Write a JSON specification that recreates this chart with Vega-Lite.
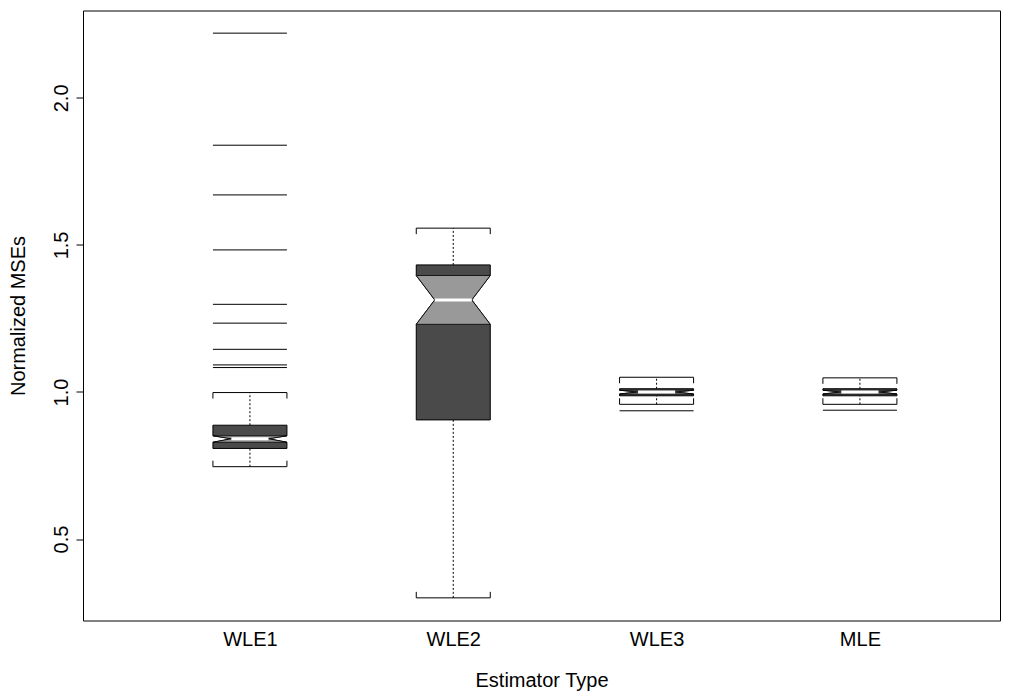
{
  "$schema": "https://vega.github.io/schema/vega-lite/v6.json",
  "width": 917,
  "height": 610,
  "autosize": {"type": "none"},
  "padding": {"left": 83, "top": 10.5, "right": 16, "bottom": 73.5},
  "background": "white",
  "config": {
    "view": {"stroke": "black", "strokeWidth": 1},
    "font": "Liberation Sans",
    "axis": {"labelFont": "Liberation Sans", "titleFont": "Liberation Sans", "labelColor": "black", "titleColor": "black", "tickColor": "black", "grid": false, "labelFontSize": 20, "titleFontSize": 20, "titleFontWeight": "normal"}
  },
  "datasets": {
    "stats": [
      {"group": "WLE1", "lo": 0.746, "q1": 0.808, "nlo": 0.829, "med": 0.841, "nhi": 0.851, "q3": 0.887, "hi": 0.998},
      {"group": "WLE2", "lo": 0.300, "q1": 0.905, "nlo": 1.230, "med": 1.313, "nhi": 1.396, "q3": 1.432, "hi": 1.557},
      {"group": "WLE3", "lo": 0.958, "q1": 0.987, "nlo": 0.993, "med": 1.000, "nhi": 1.006, "q3": 1.011, "hi": 1.050},
      {"group": "MLE", "lo": 0.958, "q1": 0.987, "nlo": 0.993, "med": 1.000, "nhi": 1.006, "q3": 1.011, "hi": 1.048}
    ],
    "outliers": [
      {"group": "WLE1", "value": 2.220},
      {"group": "WLE1", "value": 1.839},
      {"group": "WLE1", "value": 1.670},
      {"group": "WLE1", "value": 1.483},
      {"group": "WLE1", "value": 1.298},
      {"group": "WLE1", "value": 1.234},
      {"group": "WLE1", "value": 1.145},
      {"group": "WLE1", "value": 1.092},
      {"group": "WLE1", "value": 1.083},
      {"group": "WLE3", "value": 0.936},
      {"group": "MLE", "value": 0.938}
    ]
  },
  "layer": [
    {
      "data": {"name": "stats"},
      "transform": [
        {"calculate": "indexof(['WLE1','WLE2','WLE3','MLE'], datum.group) + 1", "as": "pos"},
        {"fold": ["q1", "nlo", "med", "nhi", "q3"], "as": ["k", "v"]},
        {"calculate": "datum.k == 'med' ? 0.091 : 0.182", "as": "w"},
        {"calculate": "datum.pos - datum.w", "as": "a"},
        {"calculate": "datum.pos + datum.w", "as": "b"}
      ],
      "mark": {"type": "area", "orient": "horizontal", "fill": "#4a4a4a", "stroke": "black", "strokeWidth": 1},
      "encoding": {
        "y": {"field": "v", "type": "quantitative", "scale": {"domain": [0.223, 2.297], "nice": false, "zero": false},
          "axis": {"title": "Normalized MSEs", "values": [0.5, 1, 1.5, 2], "format": ".1f", "labelAngle": -90, "labelAlign": "center", "labelBaseline": "alphabetic", "tickSize": 7, "labelPadding": 9, "domain": false, "titleAngle": 270, "titleBaseline": "alphabetic", "titleAlign": "center", "titleX": -59}},
        "x": {"field": "a", "type": "quantitative", "scale": {"domain": [0.179, 4.689], "nice": false, "zero": false},
          "axis": {"title": "Estimator Type", "values": [1, 2, 3, 4], "labelExpr": "['','WLE1','WLE2','WLE3','MLE'][datum.value]", "ticks": false, "tickSize": 0, "domain": false, "labelPadding": 9, "labelBaseline": "top", "titleBaseline": "alphabetic", "titleY": 66}},
        "x2": {"field": "b"},
        "detail": {"field": "group", "type": "nominal"}
      }
    },
    {
      "data": {"name": "stats"},
      "transform": [
        {"calculate": "indexof(['WLE1','WLE2','WLE3','MLE'], datum.group) + 1", "as": "pos"},
        {"fold": ["nlo", "med", "nhi"], "as": ["k", "v"]},
        {"calculate": "datum.k == 'med' ? 0.091 : 0.182", "as": "w"},
        {"calculate": "datum.pos - datum.w", "as": "a"},
        {"calculate": "datum.pos + datum.w", "as": "b"}
      ],
      "mark": {"type": "area", "orient": "horizontal", "fill": "#999999", "stroke": "black", "strokeWidth": 0.8},
      "encoding": {
        "y": {"field": "v", "type": "quantitative"},
        "x": {"field": "a", "type": "quantitative"},
        "x2": {"field": "b"},
        "detail": {"field": "group", "type": "nominal"}
      }
    },
    {
      "data": {"name": "stats"},
      "transform": [
        {"calculate": "indexof(['WLE1','WLE2','WLE3','MLE'], datum.group) + 1", "as": "pos"}
      ],
      "mark": {"type": "rule", "color": "black", "strokeWidth": 1, "strokeDash": [2, 2]},
      "encoding": {
        "x": {"field": "pos", "type": "quantitative"},
        "y": {"field": "q3", "type": "quantitative"},
        "y2": {"field": "hi"}
      }
    },
    {
      "data": {"name": "stats"},
      "transform": [
        {"calculate": "indexof(['WLE1','WLE2','WLE3','MLE'], datum.group) + 1", "as": "pos"}
      ],
      "mark": {"type": "rule", "color": "black", "strokeWidth": 1, "strokeDash": [2, 2]},
      "encoding": {
        "x": {"field": "pos", "type": "quantitative"},
        "y": {"field": "lo", "type": "quantitative"},
        "y2": {"field": "q1"}
      }
    },
    {
      "data": {"name": "stats"},
      "transform": [
        {"calculate": "indexof(['WLE1','WLE2','WLE3','MLE'], datum.group) + 1", "as": "pos"},
        {"calculate": "datum.pos - 0.182", "as": "xl"},
        {"calculate": "datum.pos + 0.182", "as": "xr"},
        {"fold": ["lo", "hi"], "as": ["end", "v"]}
      ],
      "mark": {"type": "rule", "color": "black", "strokeWidth": 1},
      "encoding": {
        "x": {"field": "xl", "type": "quantitative"},
        "x2": {"field": "xr"},
        "y": {"field": "v", "type": "quantitative"}
      }
    },
    {
      "data": {"name": "stats"},
      "transform": [
        {"calculate": "indexof(['WLE1','WLE2','WLE3','MLE'], datum.group) + 1", "as": "pos"},
        {"calculate": "datum.pos - 0.182", "as": "xl"},
        {"calculate": "datum.pos + 0.182", "as": "xr"},
        {"fold": ["xl", "xr"], "as": ["side", "xe"]}
      ],
      "mark": {"type": "rule", "color": "black", "strokeWidth": 1, "y2Offset": 6},
      "encoding": {
        "x": {"field": "xe", "type": "quantitative"},
        "y": {"field": "hi", "type": "quantitative"},
        "y2": {"field": "hi"}
      }
    },
    {
      "data": {"name": "stats"},
      "transform": [
        {"calculate": "indexof(['WLE1','WLE2','WLE3','MLE'], datum.group) + 1", "as": "pos"},
        {"calculate": "datum.pos - 0.182", "as": "xl"},
        {"calculate": "datum.pos + 0.182", "as": "xr"},
        {"fold": ["xl", "xr"], "as": ["side", "xe"]}
      ],
      "mark": {"type": "rule", "color": "black", "strokeWidth": 1, "y2Offset": -6},
      "encoding": {
        "x": {"field": "xe", "type": "quantitative"},
        "y": {"field": "lo", "type": "quantitative"},
        "y2": {"field": "lo"}
      }
    },
    {
      "data": {"name": "stats"},
      "transform": [
        {"calculate": "indexof(['WLE1','WLE2','WLE3','MLE'], datum.group) + 1", "as": "pos"},
        {"calculate": "datum.pos - 0.091", "as": "ml"},
        {"calculate": "datum.pos + 0.091", "as": "mr"}
      ],
      "mark": {"type": "rule", "color": "white", "strokeWidth": 3},
      "encoding": {
        "x": {"field": "ml", "type": "quantitative"},
        "x2": {"field": "mr"},
        "y": {"field": "med", "type": "quantitative"}
      }
    },
    {
      "data": {"name": "outliers"},
      "transform": [
        {"calculate": "indexof(['WLE1','WLE2','WLE3','MLE'], datum.group) + 1", "as": "pos"},
        {"calculate": "datum.pos - 0.182", "as": "xl"},
        {"calculate": "datum.pos + 0.182", "as": "xr"}
      ],
      "mark": {"type": "rule", "color": "black", "strokeWidth": 1},
      "encoding": {
        "x": {"field": "xl", "type": "quantitative"},
        "x2": {"field": "xr"},
        "y": {"field": "value", "type": "quantitative"}
      }
    }
  ]
}
